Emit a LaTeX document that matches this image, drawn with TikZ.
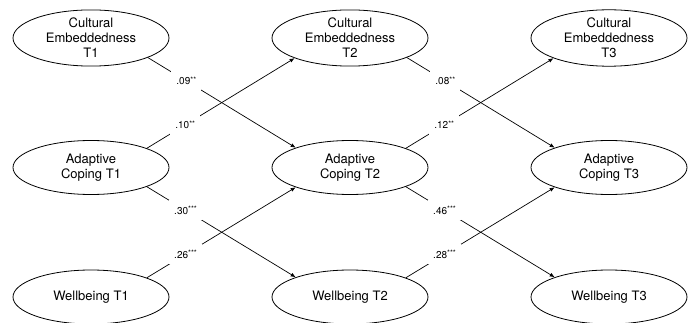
\documentclass[tikz,border=0pt]{standalone}
\usepackage{fontspec}
\setmainfont{TeX Gyre Heros}
\usetikzlibrary{shapes.geometric,arrows.meta}
\newcommand{\stars}[1]{{\fontsize{7.5}{8}\selectfont\raisebox{2.6pt}{#1}}}
\begin{document}
\begin{tikzpicture}[x=1pt,y=-1pt,
  lat/.style={ellipse,draw,line width=0.8pt,minimum width=156pt,minimum height=54pt,
    inner sep=0pt,align=center,font=\fontsize{13}{15}\selectfont},
  arr/.style={-{Latex[length=5pt,width=4pt]},line width=0.7pt},
  lbl/.style={fill=white,inner xsep=5pt,inner ysep=6pt,font=\fontsize{10}{11}\selectfont,pos=0.26}]
\useasboundingbox (0,0) rectangle (695,323);
\foreach \i/\x in {1/91,2/350,3/609}{
  \node[lat] (c\i) at (\x,38) {Cultural\\Embeddedness\\T\i};
  \node[lat] (a\i) at (\x,167.5) {Adaptive\\Coping T\i};
  \node[lat] (w\i) at (\x,297) {Wellbeing T\i};
}
% T1 -> T2
\draw[arr] (c1.-19) -- node[lbl] {.09\stars{**}} (a2.160);
\draw[arr] (a1.19) -- node[lbl] {.10\stars{**}} (c2.-160);
\draw[arr] (a1.-19) -- node[lbl] {.30\stars{***}} (w2.160);
\draw[arr] (w1.19) -- node[lbl] {.26\stars{***}} (a2.-160);
% T2 -> T3
\draw[arr] (c2.-19) -- node[lbl] {.08\stars{**}} (a3.160);
\draw[arr] (a2.19) -- node[lbl] {.12\stars{**}} (c3.-160);
\draw[arr] (a2.-19) -- node[lbl] {.46\stars{***}} (w3.160);
\draw[arr] (w2.19) -- node[lbl] {.28\stars{***}} (a3.-160);
\end{tikzpicture}
\end{document}
